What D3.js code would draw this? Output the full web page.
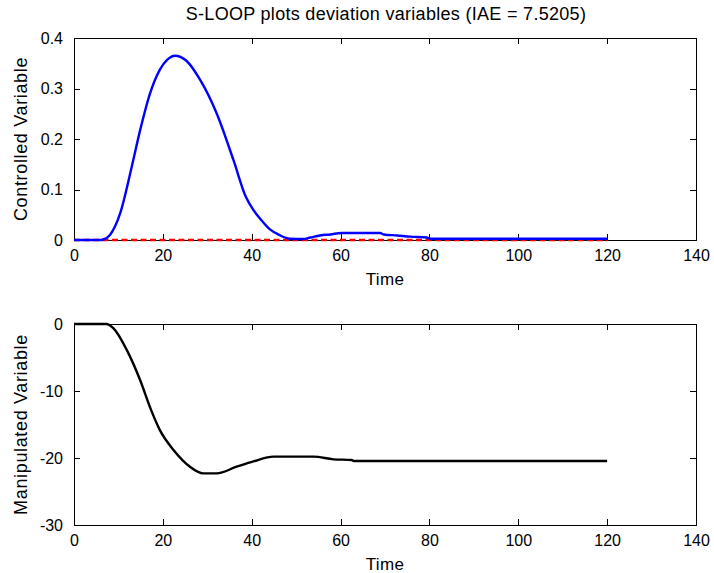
<!DOCTYPE html>
<html>
<head>
<meta charset="utf-8">
<script src="https://cdn.jsdelivr.net/npm/d3@7"></script>
<style>
  body { margin: 0; background: #fff; }
  svg text { font-family: "Liberation Sans", Arial, sans-serif; fill: #000; }
</style>
</head>
<body>
<div id="canvas"></div>
<script>
// controlled variable (deviation)
const cvTime = [0, 6, 6.6, 8.1, 10.4, 13, 14.9, 17.1, 19.3, 21, 22.7, 25.3, 28.4, 32.1, 35.9, 38.7, 40.4, 41.9, 44.1, 46.4, 48.6, 51.6, 53.2, 55.4, 57.7, 60.3, 68.9, 69.7, 72.7, 75.7, 79.4, 80.2, 120];
const cvValues = [0, 0, 0.001, 0.01, 0.053, 0.145, 0.218, 0.29, 0.337, 0.357, 0.365, 0.355, 0.317, 0.251, 0.158, 0.085, 0.059, 0.042, 0.021, 0.009, 0.0026, 0.002, 0.005, 0.009, 0.011, 0.0139, 0.0139, 0.011, 0.009, 0.0066, 0.005, 0.0026, 0.0026];
// setpoint (dashed red)
const spTime = [0, 120];
const spValues = [0, 0];
// manipulated variable
const mvTime = [0, 6, 7.3, 8.9, 11.9, 14.9, 17.1, 19.3, 22.4, 26.1, 29.1, 32.1, 36.6, 40.4, 44.9, 53.9, 58.4, 62.5, 63, 120];
const mvValues = [0, 0, 0, -0.65, -3.9, -8.4, -12.4, -15.8, -18.8, -21.3, -22.3, -22.3, -21.3, -20.5, -19.8, -19.8, -20.2, -20.3, -20.45, -20.45];

const xTicks = [0, 20, 40, 60, 80, 100, 120, 140];
const cvTicks = [0, 0.1, 0.2, 0.3, 0.4];
const mvTicks = [-30, -20, -10, 0];

const width = 714, height = 573;
const svg = d3.select("#canvas").append("svg")
  .attr("width", width).attr("height", height);

svg.append("text")
  .attr("x", 386).attr("y", 20)
  .attr("text-anchor", "middle")
  .style("font-size", "18px")
  .style("letter-spacing", "0.3px")
  .text("S-LOOP plots deviation variables (IAE = 7.5205)");

function panel(top, bottom, yDomain, yTicks, yFmt, ylabel, series) {
  const left = 74, right = 696;
  const x = d3.scaleLinear().domain([0, 140]).range([left, right]);
  const y = d3.scaleLinear().domain(yDomain).range([bottom, top]);
  const g = svg.append("g");

  // box with inward ticks, MATLAB style
  g.append("g").attr("transform", `translate(0,${bottom})`)
    .call(d3.axisBottom(x).tickValues(xTicks).tickSizeInner(-6).tickSizeOuter(0).tickPadding(10))
    .call(a => a.selectAll("text").style("font-size", "16px"));
  g.append("g").attr("transform", `translate(0,${top})`)
    .call(d3.axisTop(x).tickValues(xTicks).tickSizeInner(-6).tickSizeOuter(0).tickFormat(""));
  g.append("g").attr("transform", `translate(${left},0)`)
    .call(d3.axisLeft(y).tickValues(yTicks).tickFormat(yFmt).tickSizeInner(-6).tickSizeOuter(0).tickPadding(11))
    .call(a => a.selectAll("text").style("font-size", "16px"));
  g.append("g").attr("transform", `translate(${right},0)`)
    .call(d3.axisRight(y).tickValues(yTicks).tickSizeInner(-6).tickSizeOuter(0).tickFormat(""));
  g.selectAll(".domain, .tick line").attr("stroke", "#000").attr("shape-rendering", "crispEdges");

  const line = d3.line().x(d => x(d[0])).y(d => y(d[1]));
  series.forEach(s => {
    g.append("path")
      .datum(d3.zip(s.t, s.v))
      .attr("fill", "none")
      .attr("stroke", s.color)
      .attr("stroke-width", s.w)
      .attr("stroke-dasharray", s.dash || null)
      .attr("stroke-linejoin", "round")
      .attr("d", line.curve(s.curve || d3.curveLinear));
  });

  g.append("text")
    .attr("x", x(70)).attr("y", bottom + 45)
    .attr("text-anchor", "middle")
    .style("font-size", "17px")
    .style("letter-spacing", "0.4px")
    .text("Time");
  g.append("text")
    .attr("transform", `translate(27,${(top + bottom) / 2}) rotate(-90)`)
    .attr("text-anchor", "middle")
    .style("font-size", "18px")
    .style("letter-spacing", "0.65px")
    .text(ylabel);
}

// MATLAB prints a plain hyphen for negatives
const mvFmt = d => (d < 0 ? "-" : "") + Math.abs(d);

panel(38, 240, [0, 0.4], cvTicks, d3.format(".1~f"), "Controlled Variable", [
  { t: spTime, v: spValues, color: "#ff0000", w: 2.6, dash: "6,3.5" },
  { t: cvTime, v: cvValues, color: "#0000ff", w: 2.4, curve: d3.curveMonotoneX }
]);

panel(324, 525, [-30, 0], mvTicks, mvFmt, "Manipulated Variable", [
  { t: mvTime, v: mvValues, color: "#000000", w: 2.4, curve: d3.curveMonotoneX }
]);
</script>
</body>
</html>
